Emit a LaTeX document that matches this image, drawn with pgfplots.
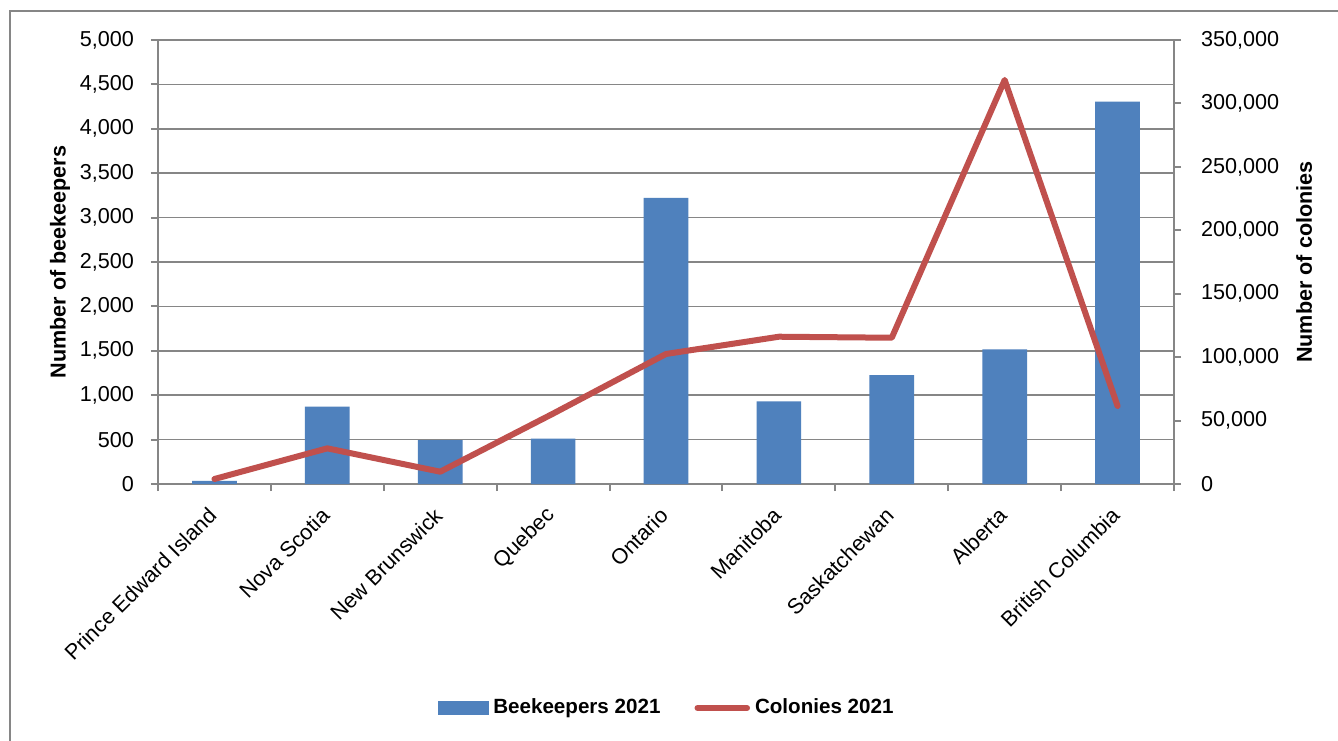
\documentclass[border=0pt]{standalone}
\usepackage{pgfplots}
\pgfplotsset{compat=1.18}
\usepackage{fontspec}
\setmainfont{Liberation Sans}
\definecolor{barblue}{HTML}{4F81BD}
\definecolor{linered}{HTML}{C0504D}
\definecolor{axgrey}{HTML}{868686}
\begin{document}
\begin{tikzpicture}
\useasboundingbox (0,0) rectangle (669pt,370pt);
\fill[white] (0,0) rectangle (669pt,370pt);
\draw[axgrey, line width=1pt] (4.75pt,-10pt) -- (4.75pt,364.5pt) -- (680pt,364.5pt);
\pgfplotsset{
  every axis/.append style={
    scale only axis, width=508pt, height=222pt,
    at={(79pt,128pt)}, anchor=south west,
    xmin=-0.5, xmax=8.5,
    tick align=outside,
    major tick length=3.5pt,
    tick style={axgrey, line width=1pt},
    axis line style={axgrey, line width=1pt},
    /pgf/number format/fixed,
    /pgf/number format/assume math mode=true,
    /pgf/number format/1000 sep={,},
    scaled y ticks=false,
    tick label style={font=\fontsize{10.8}{12}\selectfont, text=black},
    label style={font=\fontsize{10.8}{12}\selectfont\bfseries},
  }
}
\begin{axis}[
  axis x line*=bottom, axis y line*=left,
  ymin=0, ymax=5000, ytick={0,500,...,5000},
  ymajorgrids, grid style={axgrey, line width=0.8pt},
  xtick={-0.5,0.5,...,8.5},
  x tick label as interval,
  xticklabels={Prince Edward Island,Nova Scotia,New Brunswick,Quebec,Ontario,Manitoba,Saskatchewan,Alberta,British Columbia},
  xticklabel style={xshift=1.5pt, yshift=-8pt, rotate=45, anchor=east},
  yticklabel style={xshift=-5pt},
  ylabel={Number of beekeepers},
  ylabel style={at={(axis description cs:-0.0965,0.5)}, anchor=center},
]
\addplot[ybar, bar width=0.396, fill=barblue, draw=none] coordinates {
 (0,34) (1,870) (2,495) (3,510) (4,3222) (5,931) (6,1227) (7,1517) (8,4305)
};
\end{axis}
\begin{axis}[
  axis x line=none, axis y line*=right,
  ymin=0, ymax=350000, ytick={0,50000,...,350000},
  yticklabel style={xshift=6.5pt},
  ylabel={Number of colonies},
  ylabel style={at={(axis description cs:1.128,0.5)}, anchor=center},
  legend style={at={(axis description cs:0.502,-0.5045)}, anchor=center, draw=none, fill=none,
     font=\fontsize{10.3}{12}\selectfont\bfseries, legend columns=2,
     /tikz/every even column/.append style={column sep=14.5pt},
     nodes={inner xsep=2.5pt, inner ysep=1pt}},
]
\addlegendimage{legend image code/.code={\fill[barblue] (0pt,-3.25pt) rectangle (25pt,3.25pt);}}
\addlegendentry{Beekeepers 2021}
\addplot[linered, line width=3pt, line join=round, line cap=round,
  legend image code/.code={\draw[linered, line width=3pt, line cap=round] (0.75pt,0pt) -- (25.5pt,0pt);}]
 coordinates {
 (0,3940) (1,28100) (2,9700) (3,55500) (4,102500) (5,116100) (6,115300) (7,318500) (8,61500)
};
\addlegendentry{Colonies 2021}
\end{axis}
\end{tikzpicture}
\end{document}
